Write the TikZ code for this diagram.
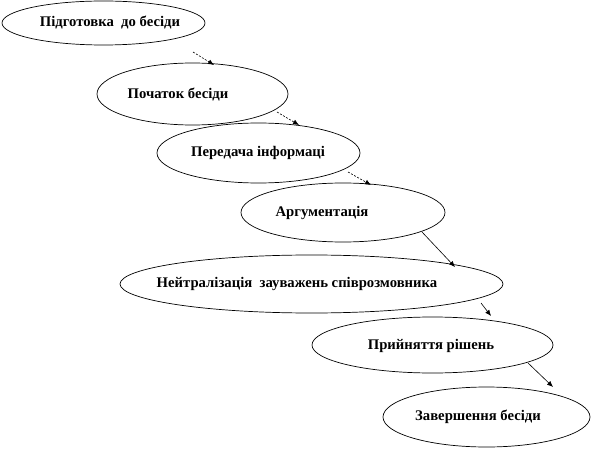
\documentclass[tikz,border=0pt]{standalone}
\usepackage{fontspec}
\setmainfont{Liberation Serif}
\usetikzlibrary{shapes.geometric,arrows.meta}
\begin{document}
\begin{tikzpicture}[x=1pt,y=-1pt,
  ell/.style={draw=black,line width=0.7pt,ellipse,inner sep=0pt},
  lbl/.style={inner sep=0pt,font=\fontsize{14.7}{16}\selectfont\bfseries},
  arr/.style={line width=0.6pt,-{Latex[length=6pt,width=5pt]}},
  darr/.style={arr,dash pattern=on 2pt off 1.5pt}]
\useasboundingbox (0,0) rectangle (602,449);
\node[ell,minimum width=203pt,minimum height=44pt] (e1) at (103.5,23) {};
\node[ell,minimum width=191pt,minimum height=62pt] (e2) at (192.5,94) {};
\node[ell,minimum width=203pt,minimum height=60pt] (e3) at (258.5,153) {};
\node[ell,minimum width=204pt,minimum height=59pt] (e4) at (343,212.5) {};
\node[ell,minimum width=383pt,minimum height=58pt] (e5) at (311.5,284) {};
\node[ell,minimum width=241pt,minimum height=56pt] (e6) at (432.5,345) {};
\node[ell,minimum width=207pt,minimum height=60pt] (e7) at (486.5,417) {};
\node[lbl] (t1) at (110,23) {Підготовка~~до бесіди};
\node[lbl] (t2) at (178,95) {Початок бесіди};
\node[lbl] (t3) at (258,153) {Передача інформаці};
\node[lbl] (t4) at (322,213) {Аргументація};
\node[lbl] (t5) at (297,284) {Нейтралізація~~зауважень співрозмовника};
\node[lbl] (t6) at (431,346) {Прийняття рішень};
\node[lbl] (t7) at (478,417) {Завершення бесіди};
\coordinate (s1) at (193,52);  \coordinate (h1) at (214,65);
\coordinate (s2) at (277,112); \coordinate (h2) at (299,125);
\coordinate (s3) at (348,172); \coordinate (h3) at (371,185);
\coordinate (s4) at (422,232); \coordinate (h4) at (455,267);
\coordinate (s5) at (481,303); \coordinate (h5) at (491,316);
\coordinate (s6) at (528,363); \coordinate (h6) at (553,387);
\draw[darr] (s1) -- (h1);
\draw[darr] (s2) -- (h2);
\draw[darr] (s3) -- (h3);
\draw[arr] (s4) -- (h4);
\draw[arr] (s5) -- (h5);
\draw[arr] (s6) -- (h6);
\end{tikzpicture}
\end{document}
